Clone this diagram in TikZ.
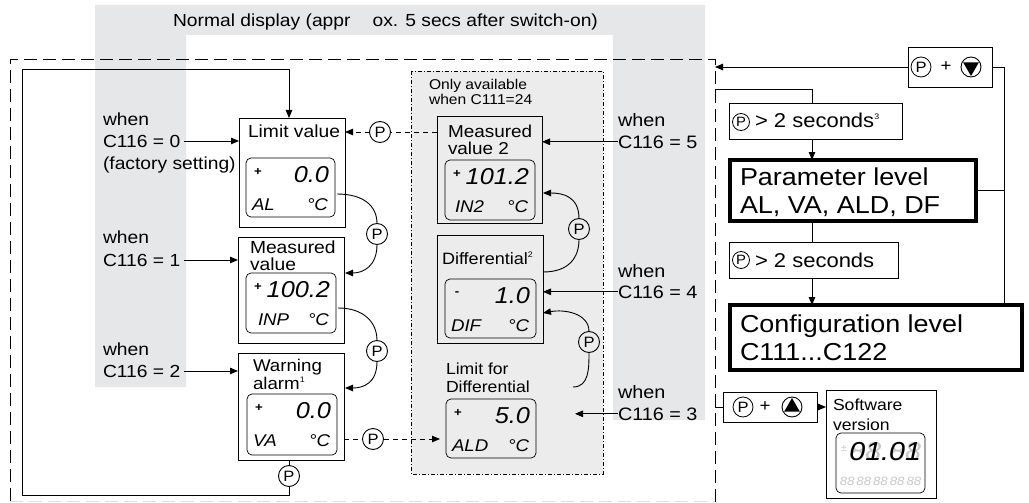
\documentclass[tikz,border=0pt]{standalone}
\usepackage{fontspec}
\setmainfont{Liberation Sans}[FakeStretch=1.1]
\usetikzlibrary{arrows.meta}
\definecolor{bandgray}{RGB}{230,231,233}
\definecolor{regiongray}{RGB}{236,236,237}
\definecolor{segoff}{RGB}{200,200,204}
\definecolor{framegray}{RGB}{222,222,225}
\newcommand{\myfs}[2]{\fontsize{#1}{#2}\selectfont}
\newcommand{\supnum}[1]{\raisebox{0.4em}{\myfs{8}{8}#1}}
\newcommand{\lcdfill}[5]{%
  \node[lcdsign] (#1s) at ([shift={(12,14)}]#1.north west) {#2};
  \node[lcddig] (#1d) at ([shift={(-6,24)}]#1.north east) {#3};
  \node[lcdbotl] (#1l) at ([shift={(6,52)}]#1.north west) {#4};
  \node[lcdbotr] (#1r) at ([shift={(-7,52)}]#1.north east) {#5};}
\begin{document}
\begin{tikzpicture}[x=1pt,y=-1pt,
  every node/.style={inner sep=0pt,outer sep=0pt},
  ln/.style={line width=0.9pt},
  arr/.style={ln,-{Triangle[length=8pt,width=6.5pt]}},
  dln/.style={ln,dash pattern=on 5pt off 4pt},
  darr/.style={dln,-{Triangle[length=8pt,width=6.5pt]}},
  frm/.style={draw,line width=0.9pt,anchor=north west},
  heavy/.style={draw,line width=3.6pt,anchor=north west},
  lcd/.style={draw,line width=0.7pt,rounded corners=5pt,anchor=north west},
  pb/.style={circle,draw,line width=0.9pt,minimum size=21pt,font=\myfs{15}{15}},
  pbs/.style={circle,draw,line width=0.8pt,minimum size=17pt,font=\myfs{13.5}{14}},
  tri/.style={circle,draw,line width=0.9pt,minimum size=20pt},
  lab/.style={anchor=base west,font=\myfs{17.5}{20}},
  rlab/.style={anchor=base west,font=\myfs{18}{20}},
  slab/.style={anchor=base west,font=\myfs{14.2}{16}},
  dlab/.style={anchor=base west,font=\myfs{16}{18}},
  btxt/.style={anchor=base west,font=\myfs{20}{22}},
  lvl/.style={anchor=base west,font=\myfs{24.5}{28}},
  lcdsign/.style={font=\myfs{12}{12}\bfseries},
  lcddig/.style={anchor=base east,font=\myfs{23}{23}\itshape},
  lcdbotl/.style={anchor=base west,font=\myfs{17}{17}\itshape},
  lcdbotr/.style={anchor=base east,font=\myfs{17}{17}\itshape}]
\useasboundingbox (0,0) rectangle (1029,503);
% grey band behind the normal display
\fill[bandgray] (95,5) -- (705,5) -- (705,420) -- (613,420) -- (613,35) -- (186,35) -- (186,387) -- (95,387) -- cycle;
\node[anchor=base west,font=\myfs{17.5}{20}] (title) at (173,27) {Normal display (appr\hspace{22pt}ox. 5 secs after switch-on)};
% optional region
\filldraw[fill=regiongray,draw=black,line width=0.8pt,dash pattern=on 4pt off 2pt on 1pt off 2pt] (411,71) rectangle (603,474);
\node[slab] (only1) at (429,89) {Only available};
\node[slab] (only2) at (429,105) {when C111=24};
% outer dashed frame
\coordinate (frR) at (715,59);
\draw[ln,dash pattern=on 13pt off 6pt] (10,501) -- (10,59) -- (frR) -- (715,503);
\draw[framegray,line width=0.9pt,dash pattern=on 13pt off 6pt] (10,501.5) -- (715,501.5);

% ---- left column boxes
\node[frm,minimum width=106pt,minimum height=109pt] (lim) at (239,118) {};
\node[lab] (limt) at (248,137) {Limit value};
\node[lcd,minimum width=89pt,minimum height=59pt] (lcdlim) at (246,158) {};
\lcdfill{lcdlim}{+}{0.0}{AL}{°C}

\node[frm,minimum width=106pt,minimum height=106pt] (mv) at (238,237) {};
\node[lab] (mvt1) at (250,253) {Measured};
\node[lab] (mvt2) at (250,270) {value};
\node[lcd,minimum width=90pt,minimum height=60pt] (lcdmv) at (246,273) {};
\lcdfill{lcdmv}{+}{100.2}{\hspace{6pt}INP}{°C}

\node[frm,minimum width=106pt,minimum height=107pt] (wa) at (238,353) {};
\node[lab,font=\myfs{17}{20}] (wat1) at (253,371) {Warning};
\node[lab,font=\myfs{17}{20}] (wat2) at (253,389) {alarm\supnum{1}};
\node[lcd,minimum width=90pt,minimum height=61pt] (lcdwa) at (247,394) {};
\lcdfill{lcdwa}{+}{0.0}{VA}{°C}

% ---- optional column
\node[frm,minimum width=105pt,minimum height=107pt] (mv2) at (437,116) {};
\node[lab,font=\myfs{17.2}{20}] (mv2t1) at (448,137) {Measured};
\node[lab,font=\myfs{17.2}{20}] (mv2t2) at (448,154) {value 2};
\node[lcd,minimum width=90pt,minimum height=60pt] (lcdmv2) at (445,160) {};
\lcdfill{lcdmv2}{+}{101.2}{\hspace{4pt}IN2}{°C}

\node[frm,minimum width=106pt,minimum height=108pt] (dif) at (437,235) {};
\node[dlab,font=\myfs{16.4}{18}] (dift) at (442,264) {Differential\supnum{2}};
\node[lcd,minimum width=91pt,minimum height=59pt] (lcddif) at (445,279) {};
\lcdfill{lcddif}{\raisebox{-4pt}{-}}{1.0}{DIF}{°C}

\node[dlab] (ldt1) at (446,374) {Limit for};
\node[dlab] (ldt2) at (446,392) {Differential};
\node[lcd,minimum width=90pt,minimum height=59pt] (lcdld) at (446,399) {};
\lcdfill{lcdld}{+}{5.0}{ALD}{°C}

% ---- left "when" labels
\node[lab] (w0a) at (103,125) {when};
\node[lab] (w0b) at (103,147) {C116 = 0};
\node[lab] (w0c) at (103,169) {(factory setting)};
\draw[arr] ([xshift=4pt]w0b.east) -- (w0b.east -| lim.west);
\node[lab] (w1a) at (103,243) {when};
\node[lab] (w1b) at (103,266) {C116 = 1};
\draw[arr] ([xshift=4pt]w1b.east) -- (w1b.east -| mv.west);
\node[lab] (w2a) at (103,355) {when};
\node[lab] (w2b) at (103,377) {C116 = 2};
\draw[arr] ([xshift=4pt]w2b.east) -- (w2b.east -| wa.west);

% ---- right "when" labels
\node[rlab] (w5a) at (618,127) {when};
\node[rlab] (w5b) at (618,148) {C116 = 5};
\draw[arr] (w5b.west) -- (w5b.west -| mv2.east);
\node[rlab] (w4a) at (618,277) {when};
\node[rlab] (w4b) at (618,298) {C116 = 4};
\draw[arr] (w4b.west) -- (w4b.west -| dif.east);
\node[rlab] (w3a) at (618,398) {when};
\node[rlab] (w3b) at (618,420) {C116 = 3};
\coordinate (a3e) at (575,415);
\draw[arr] (w3b.west) -- (w3b.west -| a3e);

% ---- P transitions in left column
\node[pb] (p1) at (377,234) {P};
\coordinate (p1s) at (337,194);
\coordinate (p1e) at (345,273);
\draw[ln] (p1s) .. controls +(26,0) and +(0,-18) .. (p1.north);
\draw[arr] (p1.south) .. controls +(0,22) and +(18,0) .. (p1e);

\node[pb] (p2) at (377,351) {P};
\coordinate (p2s) at (338,308);
\coordinate (p2e) at (345,388);
\draw[ln] (p2s) .. controls +(26,0) and +(0,-18) .. (p2.north);
\draw[arr] (p2.south) .. controls +(0,22) and +(18,0) .. (p2e);

\node[pb] (p3) at (289,476) {P};
\draw[ln] (p3.north) -- (p3.north |- wa.south);
\coordinate (lpBL) at (22,495);
\coordinate (lpTL) at (22,69);
\draw[arr] (p3.south) |- (lpBL) -- (lpTL) -| (p3 |- lim.north);

\node[pb] (p4) at (373,439) {P};
\draw[dln] (p4 -| wa.east) -- (p4.west);
\coordinate (p4e) at (440,439);
\draw[darr] (p4.east) -- (p4e);

\node[pb] (p5) at (380,132) {P};
\draw[dln] (p5 -| mv2.west) -- (p5.east);
\draw[darr] (p5.west) -- (p5 -| lim.east);

% ---- P transitions in optional column
\node[pb] (p6) at (579,229) {P};
\coordinate (p6s) at (543,272);
\coordinate (p6e) at (543,193);
\draw[ln] (p6s) .. controls +(26,0) and +(0,18) .. (p6.south);
\draw[arr] (p6.north) .. controls +(0,-22) and +(20,0) .. (p6e);

\node[pb] (p7) at (589,342) {P};
\coordinate (p7s) at (573,387);
\coordinate (p7e) at (543,313);
\draw[ln] (p7s) .. controls +(16,0) and +(0,16) .. (p7.south);
\draw[arr] (p7.north) .. controls +(0,-18) and +(22,-4) .. (p7e);

% ---- right side
\coordinate (rbus) at (1004,0);
\coordinate (vbus) at (812,0);
\coordinate (t89) at (715,89);

\node[frm,minimum width=84pt,minimum height=40pt] (pdown) at (908,47) {};
\node[pbs,minimum size=20pt,font=\myfs{15}{15}] (pd1) at (921,67) {P};
\node[font=\myfs{17}{17}] (pd2) at (946,67) {+};
\node[tri] (pd3) at (971,67) {};
\fill ([shift={(-7.8,-4.5)}]pd3.center) -- ([shift={(7.8,-4.5)}]pd3.center) -- ([shift={(0,9)}]pd3.center) -- cycle;
\draw[arr] (pdown.west) -- (pdown.west -| frR);
\draw[ln] (pdown.east) -| (rbus |- 0,303);

\node[frm,minimum width=173pt,minimum height=36pt] (ps3) at (729,103) {};
\node[pbs] (ps3p) at (741,122) {P};
\node[btxt] (ps3t) at (755,128) {> 2 seconds\supnum{3}};
\draw[ln] (t89) -| (vbus |- ps3.north);

\node[heavy,minimum width=246pt,minimum height=61pt] (par) at (730,160) {};
\node[lvl] (part1) at (740,185) {Parameter level};
\node[lvl] (part2) at (740,213) {AL, VA, ALD, DF};
\draw[arr] (vbus |- ps3.south) -- (vbus |- par.north);
\draw[ln] (par.east) -- (par.east -| rbus);

\node[frm,minimum width=169pt,minimum height=36pt] (ps2) at (729,242) {};
\node[pbs] (ps2p) at (741,260) {P};
\node[btxt] (ps2t) at (755,267) {> 2 seconds};
\draw[ln] (vbus |- par.south) -- (vbus |- ps2.north);

\node[heavy,minimum width=292pt,minimum height=65pt] (cfg) at (730,305) {};
\node[lvl] (cfgt1) at (740,332) {Configuration level};
\node[lvl] (cfgt2) at (740,360) {C111...C122};
\draw[arr] (vbus |- ps2.south) -- (vbus |- cfg.north);

\node[frm,minimum width=94pt,minimum height=30pt] (pup) at (723,392) {};
\node[pbs,minimum size=20pt,font=\myfs{15}{15}] (pu1) at (743,407) {P};
\node[font=\myfs{17}{17}] (pu2) at (765,407) {+};
\node[tri] (pu3) at (792,407) {};
\fill ([shift={(-7.8,4.5)}]pu3.center) -- ([shift={(7.8,4.5)}]pu3.center) -- ([shift={(0,-9)}]pu3.center) -- cycle;
\draw[ln] (pup.west -| frR) -- (pup.west);

\node[frm,minimum width=110pt,minimum height=108pt] (sw) at (826,390) {};
\draw[arr] (pup.east) -- (pup.east -| sw.west);
\node[dlab] (swt1) at (833,410) {Software};
\node[dlab] (swt2) at (833,430) {version};
\node[lcd,minimum width=89pt,minimum height=60pt] (lcdsw) at (836,433) {};
\node[font=\myfs{10}{10},text=segoff] (lcdsws) at ([shift={(8,16)}]lcdsw.north west) {±};
\node[anchor=base east,font=\myfs{26}{26}\itshape,text=segoff] (lcdswg) at ([shift={(-4,27)}]lcdsw.north east) {88.88};
\node[anchor=base east,font=\myfs{26}{26}\itshape] (lcdswd) at ([shift={(-4,27)}]lcdsw.north east) {01.01};
\node[anchor=base,font=\myfs{12}{12}\itshape,text=segoff] (lcdswb) at ([shift={(0,52)}]lcdsw.north) {88\,88\,88\,88\,88};
\end{tikzpicture}
\end{document}
